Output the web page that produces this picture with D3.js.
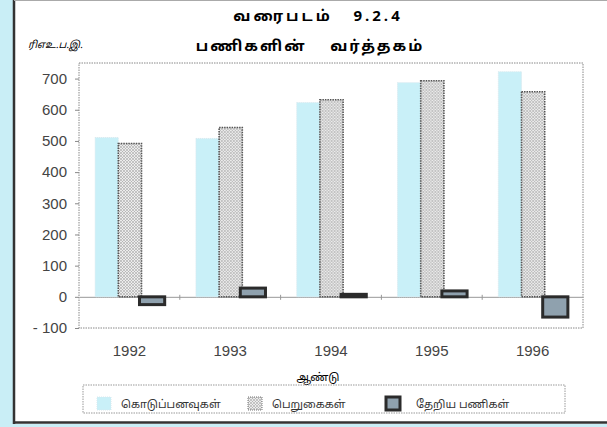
<!DOCTYPE html>
<html>
<head>
<meta charset="utf-8">
<script src="https://cdn.jsdelivr.net/npm/d3@7"></script>
<style>
  body { margin: 0; background: #fff; }
  svg { display: block; }
  .tam { font-family: "Noto Sans Tamil", "Lohit Tamil", "Noto Sans", sans-serif; }
  .num { font-family: "Liberation Sans", Arial, sans-serif; }
</style>
</head>
<body>
<svg id="graph"></svg>
<script>
// chart data
var years = ["1992", "1993", "1994", "1995", "1996"];
var payments = [511, 508, 623, 687, 722];   // கொடுப்பனவுகள்
var receipts = [492, 543, 632, 693, 658];   // பெறுகைகள்
var netServices = [-25, 28, 8, 19, -65];    // தேறிய பணிகள்
var yTicks = [700, 600, 500, 400, 300, 200, 100, 0, -100];
var seriesNames = ["கொடுப்பனவுகள்", "பெறுகைகள்", "தேறிய பணிகள்"];

var svg = d3.select("#graph")
    .attr("width", 607)
    .attr("height", 427);

// hatch pattern for the receipts bars
var defs = svg.append("defs");
var pat = defs.append("pattern")
    .attr("id", "hatch")
    .attr("patternUnits", "userSpaceOnUse")
    .attr("width", 3).attr("height", 3);
pat.append("rect").attr("width", 3).attr("height", 3).attr("fill", "#ececec");
pat.append("path").attr("d", "M0,3 L3,0 M0,0 L3,3").attr("stroke", "#a8a8a8").attr("stroke-width", 0.6);

// page frame: blue strip on the left, dark rules
svg.append("rect").attr("x", 0).attr("y", 0).attr("width", 13).attr("height", 427).attr("fill", "#c9eef6");
svg.append("rect").attr("x", 0).attr("y", 424).attr("width", 607).attr("height", 3).attr("fill", "#c9eef6");
svg.append("line").attr("x1", 14).attr("x2", 14).attr("y1", 0).attr("y2", 424).attr("stroke", "#333").attr("stroke-width", 2.5);
svg.append("line").attr("x1", 14).attr("x2", 607).attr("y1", 422.5).attr("y2", 422.5).attr("stroke", "#333").attr("stroke-width", 2.5);
svg.append("line").attr("x1", 14).attr("x2", 607).attr("y1", 0.5).attr("y2", 0.5).attr("stroke", "#aaa").attr("stroke-width", 1);

// titles (spaced out like the printed page)
svg.append("text").attr("class", "tam")
    .attr("x", 318).attr("y", 21)
    .attr("text-anchor", "middle")
    .style("font-size", "15px").style("font-weight", "bold")
    .style("letter-spacing", "3px").style("white-space", "pre")
    .text("வரைபடம்   9.2.4");
svg.append("text").attr("class", "tam")
    .attr("x", 310).attr("y", 51)
    .attr("text-anchor", "middle")
    .style("font-size", "15px").style("font-weight", "bold")
    .style("letter-spacing", "2px").style("white-space", "pre")
    .text("பணிகளின்    வர்த்தகம்");
svg.append("text").attr("class", "tam")
    .attr("x", 28).attr("y", 48)
    .style("font-size", "10px").style("font-style", "italic")
    .text("ரிஎஉ.ப.இ.");

// plot area
var plot = {left: 79, right: 583, top: 63, bottom: 328};

var x = d3.scaleBand().domain(years).range([plot.left, plot.right]);
var xIn = d3.scaleBand().domain([0, 1, 2])
    .range([x.bandwidth() * 0.16, x.bandwidth() * 0.85]);
var y = d3.scaleLinear().domain([-100, 750]).range([plot.bottom, plot.top]);

svg.append("rect")
    .attr("x", plot.left).attr("y", plot.top)
    .attr("width", plot.right - plot.left).attr("height", plot.bottom - plot.top)
    .attr("fill", "none").attr("stroke", "#888").attr("stroke-dasharray", "1.5,1");

// y axis
var yAxis = svg.append("g")
    .attr("transform", "translate(" + plot.left + ",0)")
    .call(d3.axisLeft(y).tickValues(yTicks).tickSize(4).tickPadding(8));
yAxis.select(".domain").remove();
yAxis.selectAll("line").attr("stroke", "#888");
yAxis.selectAll("text").attr("class", "num")
    .style("font-size", "15px").attr("fill", "#444")
    .text(function(d) { return d < 0 ? "- " + Math.abs(d) : d; });

// zero line with category separators
var zeroAxis = svg.append("g")
    .attr("transform", "translate(0," + y(0) + ")")
    .call(d3.axisBottom(x).tickSize(0).tickFormat(""));
zeroAxis.select(".domain").attr("stroke", "#999");
svg.selectAll(".sep")
  .data(years.slice(1))
  .enter().append("line")
    .attr("x1", function(d) { return x(d); })
    .attr("x2", function(d) { return x(d); })
    .attr("y1", y(0) - 2).attr("y2", y(0) + 3)
    .attr("stroke", "#999");

// x labels
var xAxis = svg.append("g")
    .attr("transform", "translate(0," + plot.bottom + ")")
    .call(d3.axisBottom(x).tickSize(0).tickPadding(17));
xAxis.select(".domain").remove();
xAxis.selectAll("text").attr("class", "num")
    .style("font-size", "15px").attr("fill", "#444");

svg.append("text").attr("class", "tam")
    .attr("x", 318).attr("y", 381)
    .attr("text-anchor", "middle")
    .style("font-size", "11px")
    .text("ஆண்டு");

// bars
function barY(v) { return Math.min(y(v), y(0)); }
function barH(v) { return Math.abs(y(v) - y(0)); }

var groups = svg.selectAll(".year")
  .data(years)
  .enter().append("g")
    .attr("transform", function(d) { return "translate(" + x(d) + ",0)"; });

groups.append("rect")
    .attr("x", xIn(0)).attr("width", xIn.bandwidth())
    .attr("y", function(d, i) { return barY(payments[i]); })
    .attr("height", function(d, i) { return barH(payments[i]); })
    .attr("fill", "#c9f0f8")
    .attr("stroke", "#d8e8ee").attr("stroke-dasharray", "1,1");

groups.append("rect")
    .attr("x", xIn(1)).attr("width", xIn.bandwidth())
    .attr("y", function(d, i) { return barY(receipts[i]); })
    .attr("height", function(d, i) { return barH(receipts[i]); })
    .attr("fill", "url(#hatch)")
    .attr("stroke", "#555").attr("stroke-width", 1.6).attr("stroke-dasharray", "1.5,1");

groups.append("rect")
    .attr("x", xIn(2) - 2).attr("width", xIn.bandwidth() + 2)
    .attr("y", function(d, i) { return barY(netServices[i]); })
    .attr("height", function(d, i) { return barH(netServices[i]); })
    .attr("fill", "#8fa1ae")
    .attr("stroke", "#2b2b2b").attr("stroke-width", 3);

// legend
svg.append("rect")
    .attr("x", 83).attr("y", 385).attr("width", 482).attr("height", 28)
    .attr("fill", "none").attr("stroke", "#999").attr("stroke-dasharray", "1.5,1");

var legendX = [97, 248, 386];
var legend = svg.selectAll(".legend")
  .data(seriesNames)
  .enter().append("g")
    .attr("transform", function(d, i) { return "translate(" + legendX[i] + ",397)"; });

legend.append("rect")
    .attr("width", 14).attr("height", 13)
    .attr("fill", function(d, i) { return ["#c9f0f8", "url(#hatch)", "#8fa1ae"][i]; })
    .attr("stroke", function(d, i) { return ["#d8e8ee", "#777", "#2b2b2b"][i]; })
    .attr("stroke-width", function(d, i) { return i == 2 ? 3 : 1; })
    .attr("stroke-dasharray", function(d, i) { return i == 2 ? null : "1,1"; });

legend.append("text").attr("class", "tam")
    .attr("x", function(d, i) { return i == 2 ? 30 : 24; })
    .attr("y", 11)
    .style("font-size", "11px").attr("fill", "#333")
    .text(function(d) { return d; });
</script>
</body>
</html>
